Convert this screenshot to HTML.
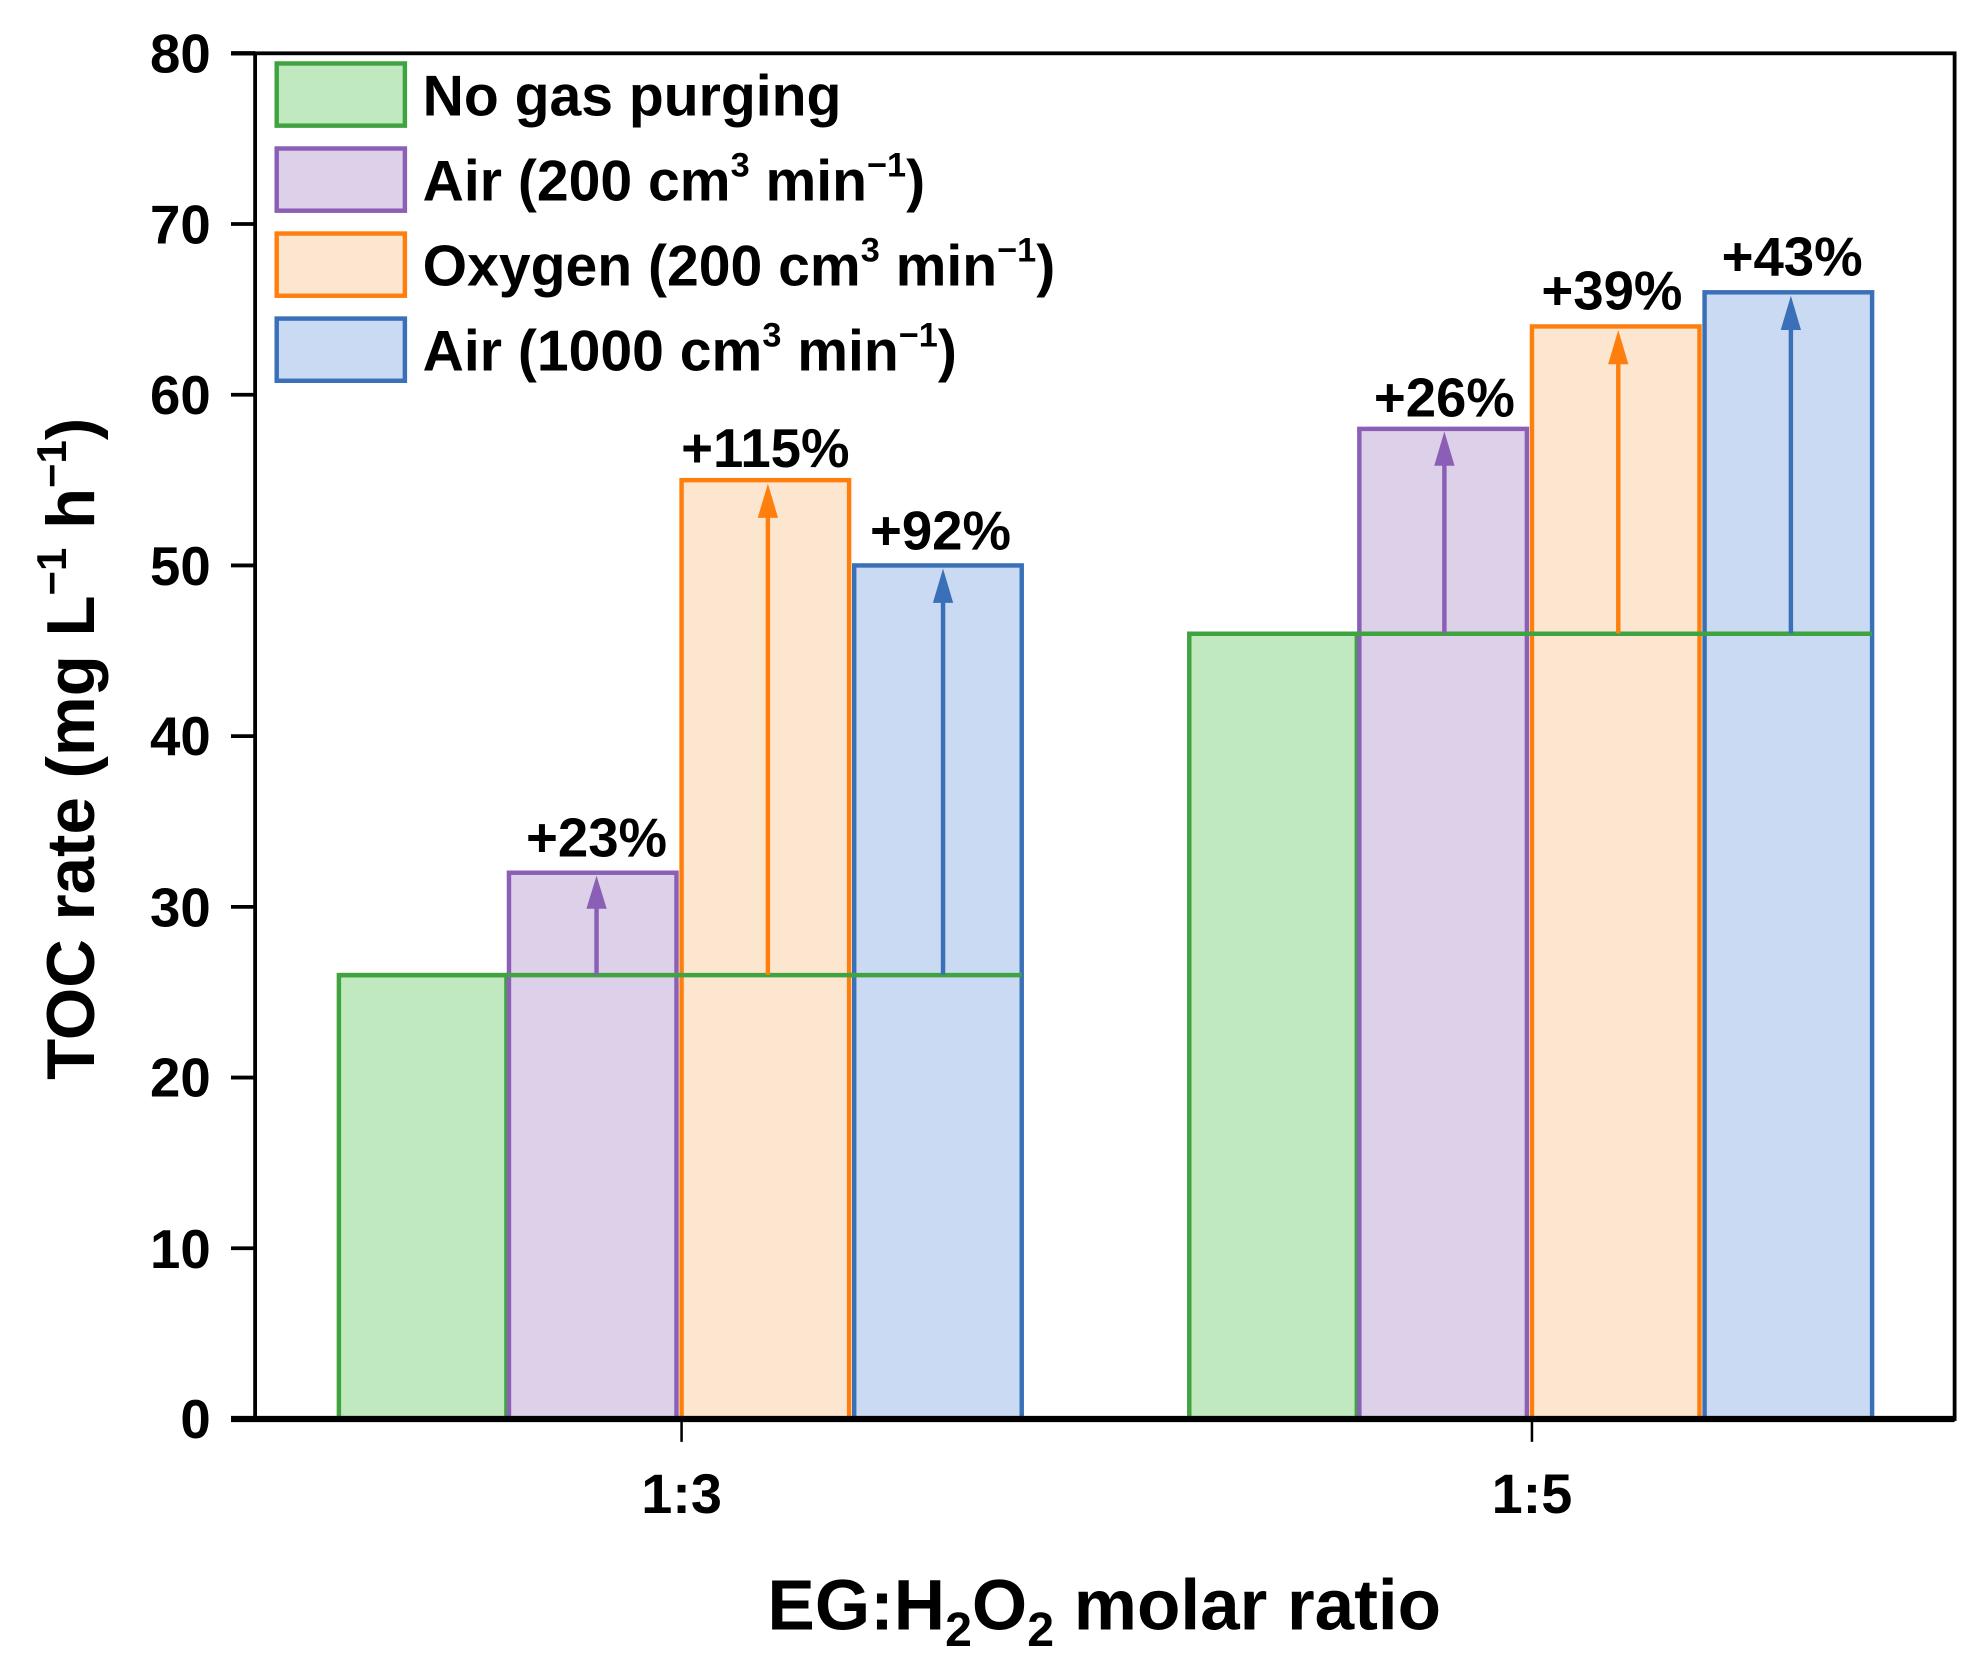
<!DOCTYPE html>
<html><head><meta charset="utf-8"><style>
html,body{margin:0;padding:0;background:#fff;}
svg{display:block;}
text{font-family:"Liberation Sans",Arial,sans-serif;font-weight:bold;fill:#000;}
</style></head><body>
<svg width="1980" height="1667" viewBox="0 0 1560 1313.4" xmlns="http://www.w3.org/2000/svg">
<g stroke-width="3.5">
<rect x="267" y="768.3" width="132" height="349.7" fill="#c0e9c0" stroke="#3fa33f"/>
<rect x="401" y="687.6" width="132" height="430.4" fill="#ddd0e9" stroke="#8a5fb5"/>
<rect x="537" y="378.3" width="132" height="739.7" fill="#fde6cf" stroke="#ff7f0e"/>
<rect x="673" y="445.5" width="132" height="672.5" fill="#c9daf2" stroke="#3a70b8"/>
<rect x="937" y="499.3" width="132" height="618.7" fill="#c0e9c0" stroke="#3fa33f"/>
<rect x="1071" y="337.9" width="132" height="780.1" fill="#ddd0e9" stroke="#8a5fb5"/>
<rect x="1207" y="257.2" width="132" height="860.8" fill="#fde6cf" stroke="#ff7f0e"/>
<rect x="1343" y="230.3" width="132" height="887.7" fill="#c9daf2" stroke="#3a70b8"/>
<line x1="267" y1="768.3" x2="805" y2="768.3" stroke="#3fa33f"/>
<line x1="937" y1="499.3" x2="1475" y2="499.3" stroke="#3fa33f"/>
</g>
<g stroke-width="3.5">
<line x1="470" y1="768" x2="470" y2="700" stroke="#8a5fb5"/><polygon points="462,716 478,716 470,690" fill="#8a5fb5"/>
<line x1="605" y1="768" x2="605" y2="392" stroke="#ff7f0e"/><polygon points="597,408 613,408 605,381" fill="#ff7f0e"/>
<line x1="743" y1="768" x2="743" y2="460" stroke="#3a70b8"/><polygon points="735,475 751,475 743,448" fill="#3a70b8"/>
<line x1="1138" y1="499" x2="1138" y2="352" stroke="#8a5fb5"/><polygon points="1130,367 1146,367 1138,340" fill="#8a5fb5"/>
<line x1="1275" y1="499" x2="1275" y2="272" stroke="#ff7f0e"/><polygon points="1267,287 1283,287 1275,260" fill="#ff7f0e"/>
<line x1="1411" y1="499" x2="1411" y2="245" stroke="#3a70b8"/><polygon points="1403,260 1419,260 1411,233" fill="#3a70b8"/>
</g>
<g font-size="43" text-anchor="middle">
<text x="470" y="675">+23%</text>
<text x="603" y="368">+115%</text>
<text x="741" y="433">+92%</text>
<text x="1138" y="328">+26%</text>
<text x="1270" y="244">+39%</text>
<text x="1412" y="217">+43%</text>
</g>
<rect x="201" y="42" width="1339" height="1076" fill="none" stroke="#000" stroke-width="3"/>
<line x1="182" y1="1118" x2="1540" y2="1118" stroke="#000" stroke-width="5"/>
<line x1="182" y1="42" x2="201" y2="42" stroke="#000" stroke-width="3.5"/>
<g stroke="#000" stroke-width="3">
<line x1="182" y1="983.5" x2="201" y2="983.5"/>
<line x1="182" y1="849" x2="201" y2="849"/>
<line x1="182" y1="714.5" x2="201" y2="714.5"/>
<line x1="182" y1="580" x2="201" y2="580"/>
<line x1="182" y1="445.5" x2="201" y2="445.5"/>
<line x1="182" y1="311" x2="201" y2="311"/>
<line x1="182" y1="176.5" x2="201" y2="176.5"/>
<line x1="537" y1="1118" x2="537" y2="1136" stroke-width="2"/>
<line x1="1207" y1="1118" x2="1207" y2="1136" stroke-width="2"/>
</g>
<g font-size="43" text-anchor="end">
<text x="166" y="1133">0</text>
<text x="166" y="999">10</text>
<text x="166" y="864">20</text>
<text x="166" y="730">30</text>
<text x="166" y="595">40</text>
<text x="166" y="461">50</text>
<text x="166" y="326">60</text>
<text x="166" y="192">70</text>
<text x="166" y="57">80</text>
</g>
<g font-size="44" text-anchor="middle">
<text x="537" y="1192">1:3</text>
<text x="1207" y="1192">1:5</text>
</g>
<text x="870" y="1284" font-size="56" text-anchor="middle">EG:H<tspan font-size="38" dy="13">2</tspan><tspan dy="-13">O</tspan><tspan font-size="38" dy="13">2</tspan><tspan dy="-13"> molar ratio</tspan></text>
<text transform="translate(74,590) rotate(-90)" font-size="53" text-anchor="middle">TOC rate (mg L<tspan font-size="33" dy="-22">−1</tspan><tspan dy="22"> h</tspan><tspan font-size="33" dy="-22">−1</tspan><tspan dy="22">)</tspan></text>
<g stroke-width="3.5">
<rect x="218" y="50" width="101" height="49" fill="#c0e9c0" stroke="#3fa33f"/>
<rect x="218" y="117" width="101" height="49" fill="#ddd0e9" stroke="#8a5fb5"/>
<rect x="218" y="184" width="101" height="49" fill="#fde6cf" stroke="#ff7f0e"/>
<rect x="218" y="251" width="101" height="49" fill="#c9daf2" stroke="#3a70b8"/>
</g>
<g font-size="45">
<text x="333" y="91">No gas purging</text>
<text x="333" y="158">Air (200 cm<tspan font-size="27" dy="-19">3</tspan><tspan dy="19"> min</tspan><tspan font-size="27" dy="-19">−1</tspan><tspan dy="19">)</tspan></text>
<text x="333" y="225">Oxygen (200 cm<tspan font-size="27" dy="-19">3</tspan><tspan dy="19"> min</tspan><tspan font-size="27" dy="-19">−1</tspan><tspan dy="19">)</tspan></text>
<text x="333" y="292">Air (1000 cm<tspan font-size="27" dy="-19">3</tspan><tspan dy="19"> min</tspan><tspan font-size="27" dy="-19">−1</tspan><tspan dy="19">)</tspan></text>
</g>
</svg>
</body></html>
